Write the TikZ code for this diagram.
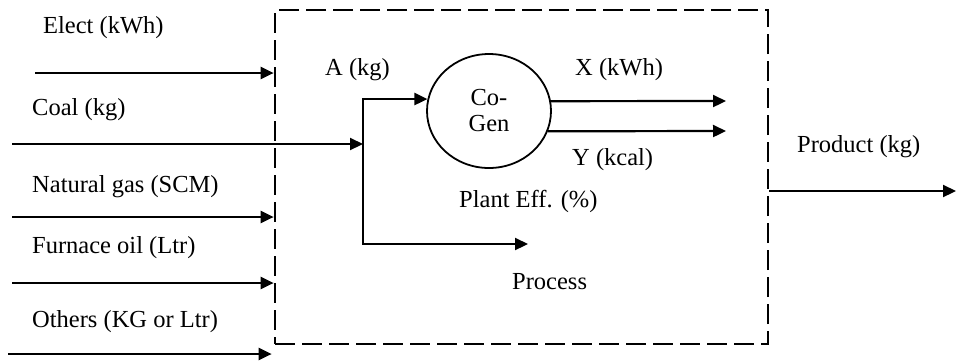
\documentclass[tikz,border=0pt]{standalone}
\usepackage{fontspec}
\setmainfont{Liberation Serif}
\usetikzlibrary{arrows.meta,shapes.geometric,positioning}
\tikzset{
  font=\fontsize{24.5}{26}\selectfont,
  >={Triangle[length=13pt,width=12pt]},
  flow/.style     = {->, line width=2.2pt},
  plantbox/.style = {draw, dash pattern=on 20pt off 7pt, line width=2.7pt,
                     minimum width=493pt, minimum height=334pt, inner sep=0pt},
  unit/.style     = {draw, ellipse, line width=1.8pt, align=center,
                     minimum width=124pt, minimum height=114pt, inner sep=0pt},
  lbl/.style      = {anchor=base west, inner sep=0pt},
}

\begin{document}
\begin{tikzpicture}[x=1pt, y=-1pt]
\useasboundingbox (0,0) rectangle (956,360);

% ---- plant boundary and co-generation unit ---------------------------
\node[plantbox] at (521.5,177) (plant) {};
\node[unit] at (489,111) (cogen) {Co-\\Gen};

% ---- input labels (left) ---------------------------------------------
\node[lbl] at (43,33)  (elect) {Elect (kWh)};
\node[lbl] at (32,115) (coal)  {Coal (kg)};
\node[lbl] at (32,192) (gas)   {Natural gas (SCM)};
\node[lbl] at (32,253) (oil)   {Furnace oil (Ltr)};
\node[lbl] at (32,327) (other) {Others (KG or Ltr)};

% ---- inner labels -----------------------------------------------------
\node[lbl] at (325,75)  (alab) {A (kg)};
\node[lbl] at (575,75)  (xlab) {X (kWh)};
\node[lbl] at (572,165) (ylab) {Y (kcal)};
\node[lbl] at (459,207) (eff)  {Plant Eff. (\%)};
\node[lbl] at (512,289) (proc) {Process};
\node[lbl] at (797,152) (prod) {Product (kg)};

% ---- free ends --------------------------------------------------------
\coordinate (electS) at (35,73);
\coordinate (coalS)  at (12,144);
\coordinate (gasS)   at (12,217);
\coordinate (oilS)   at (12,283);
\coordinate (otherS) at (8,354);
\coordinate (split)  at (363,144);
\coordinate (xE)     at (726,101);
\coordinate (yE)     at (726,131);
\coordinate (procE)  at (528,244);
\coordinate (prodE)  at (956,191);

% ---- inputs -----------------------------------------------------------
\draw[flow] (electS) -- (plant.west |- electS);
\draw[flow] (coalS) -- (split);
\draw[flow] (gasS) -- (plant.west |- gasS);
\draw[flow] (oilS) -- (plant.west |- oilS);
\draw[flow] (otherS) -- ([xshift=-2pt]plant.west |- otherS);

% ---- split to co-gen and process -------------------------------------
\draw[flow] (split) |- (cogen.169);
\draw[flow] (split) |- (procE);

% ---- co-gen outputs ---------------------------------------------------
\draw[flow] (cogen.9) -- (xE);
\draw[flow] (cogen.-19) -- (yE);

% ---- product ----------------------------------------------------------
\draw[flow] (plant.east |- prodE) -- (prodE);

\end{tikzpicture}
\end{document}
